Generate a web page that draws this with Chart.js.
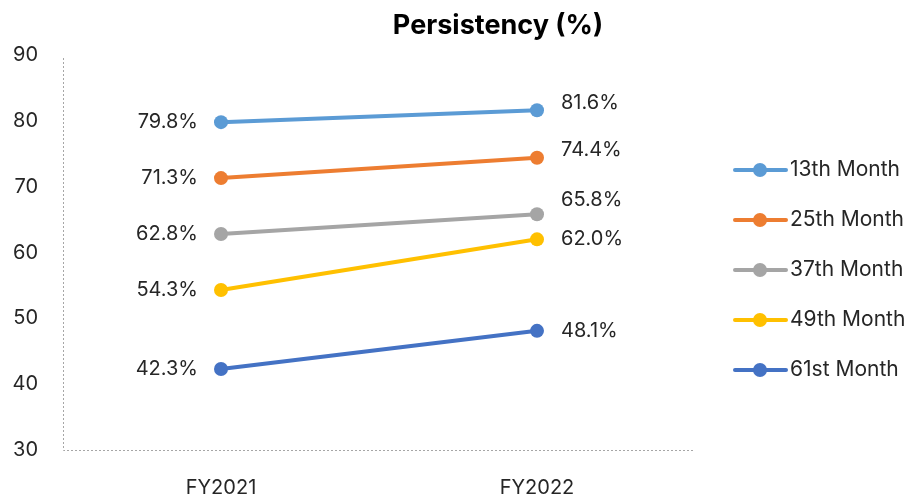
<!DOCTYPE html>
<html>
<head>
<meta charset="utf-8">
<script src="https://cdn.jsdelivr.net/npm/chart.js@4.4.0/dist/chart.umd.min.js"></script>
<style>
  body { margin: 0; background: #fff; }
  #wrap { width: 917px; height: 498px; }
</style>
</head>
<body>
<div id="wrap"><canvas id="persistencyChart" width="917" height="498"></canvas></div>
<script>
var categories = ['FY2021', 'FY2022'];
var seriesNames = ['13th Month', '25th Month', '37th Month', '49th Month', '61st Month'];
var month13 = [79.8, 81.6];
var month25 = [71.3, 74.4];
var month37 = [62.8, 65.8];
var month49 = [54.3, 62.0];
var month61 = [42.3, 48.1];
var yTicks = [30, 40, 50, 60, 70, 80, 90];

var colors = ['#5B9BD5', '#ED7D31', '#A5A5A5', '#FFC000', '#4472C4'];
var allValues = [month13, month25, month37, month49, month61];
// small vertical nudge for right-side labels (Excel moved them to avoid overlap)
var rightNudge = [-7, -8, -14, 0, 0];
var fontFam = 'Inter, "Noto Sans", sans-serif';

var datasets = [];
for (var i = 0; i < seriesNames.length; i++) {
    datasets.push({
        label: seriesNames[i],
        data: allValues[i],
        borderColor: colors[i],
        backgroundColor: colors[i],
        borderWidth: 4,
        pointRadius: 7,
        pointHoverRadius: 7,
        pointBackgroundColor: colors[i],
        pointBorderWidth: 0,
        tension: 0,
        fill: false
    });
}

// dotted axis lines on left and bottom
var axisPlugin = {
    id: 'dottedAxes',
    beforeDatasetsDraw: function(chart) {
        var a = chart.chartArea;
        var ctx = chart.ctx;
        ctx.save();
        ctx.strokeStyle = '#a6a6a6';
        ctx.lineWidth = 1;
        ctx.setLineDash([2, 2]);
        ctx.beginPath();
        ctx.moveTo(Math.round(a.left) + 0.5, a.top + 3);
        ctx.lineTo(Math.round(a.left) + 0.5, Math.round(a.bottom) + 0.5);
        ctx.lineTo(a.right, Math.round(a.bottom) + 0.5);
        ctx.stroke();
        ctx.restore();
    }
};

var labelPlugin = {
    id: 'pointLabels',
    afterDatasetsDraw: function(chart) {
        var ctx = chart.ctx;
        ctx.save();
        ctx.font = '20px ' + fontFam;
        ctx.fillStyle = '#262626';
        ctx.textBaseline = 'middle';
        chart.data.datasets.forEach(function(ds, i) {
            var meta = chart.getDatasetMeta(i);
            meta.data.forEach(function(pt, j) {
                var txt = ds.data[j].toFixed(1) + '%';
                if (j === 0) {
                    ctx.textAlign = 'right';
                    ctx.fillText(txt, pt.x - 23, pt.y);
                } else {
                    ctx.textAlign = 'left';
                    ctx.fillText(txt, pt.x + 24, pt.y + rightNudge[i]);
                }
            });
        });
        ctx.restore();
    }
};

// title + legend drawn by hand so they sit where Excel put them
var sidePlugin = {
    id: 'titleLegend',
    afterDraw: function(chart) {
        var ctx = chart.ctx;
        ctx.save();
        ctx.font = 'bold 27px ' + fontFam;
        ctx.fillStyle = '#000';
        ctx.textAlign = 'center';
        ctx.textBaseline = 'middle';
        ctx.fillText('Persistency (%)', 498, 26);

        ctx.font = '21px ' + fontFam;
        ctx.textAlign = 'left';
        chart.data.datasets.forEach(function(ds, i) {
            var y = 170 + i * 50;
            ctx.strokeStyle = ds.borderColor;
            ctx.lineWidth = 4;
            ctx.lineCap = 'round';
            ctx.beginPath();
            ctx.moveTo(735, y);
            ctx.lineTo(786, y);
            ctx.stroke();
            ctx.fillStyle = ds.borderColor;
            ctx.beginPath();
            ctx.arc(760, y, 7, 0, Math.PI * 2);
            ctx.fill();
            ctx.fillStyle = '#262626';
            ctx.fillText(ds.label, 790, y);
        });
        ctx.restore();
    }
};

var ctx = document.getElementById('persistencyChart').getContext('2d');
var persistencyChart = new Chart(ctx, {
    type: 'line',
    data: {
        labels: categories,
        datasets: datasets
    },
    plugins: [axisPlugin, labelPlugin, sidePlugin],
    options: {
        responsive: false,
        animation: false,
        layout: {
            padding: { top: 55, right: 222, left: 0, bottom: 0 }
        },
        plugins: {
            tooltip: { enabled: false },
            legend: { display: false }
        },
        scales: {
            x: {
                offset: true,
                grid: { display: false, drawTicks: false },
                border: { display: false },
                ticks: {
                    padding: 26,
                    color: '#262626',
                    font: { family: fontFam, size: 20 }
                },
                afterFit: function(scale) { scale.height = 48; }
            },
            y: {
                min: 30,
                max: 90,
                grid: { display: false, drawTicks: false },
                border: { display: false },
                afterBuildTicks: function(scale) {
                    scale.ticks = yTicks.map(function(v) { return { value: v }; });
                },
                ticks: {
                    padding: 25,
                    color: '#262626',
                    font: { family: fontFam, size: 20 }
                },
                afterFit: function(scale) { scale.width = 63; }
            }
        }
    }
});
</script>
</body>
</html>
